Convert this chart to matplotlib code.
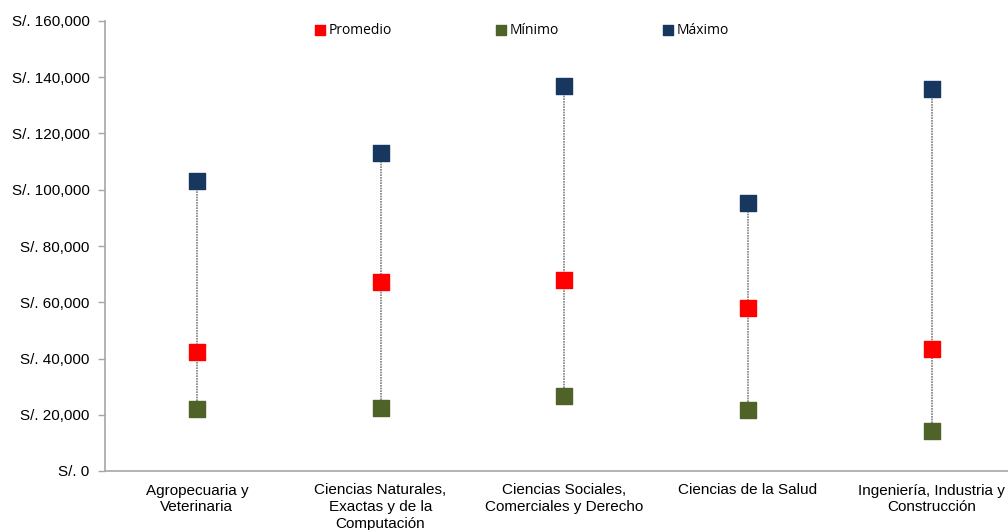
import matplotlib.pyplot as plt
from matplotlib.ticker import FuncFormatter

categorias = ["Agropecuaria y\nVeterinaria",
              "Ciencias Naturales,\nExactas y de la\nComputación",
              "Ciencias Sociales,\nComerciales y Derecho",
              "Ciencias de la Salud",
              "Ingeniería, Industria y\nConstrucción"]
promedio = [42300, 67200, 67900, 58000, 43400]
minimo = [22000, 22400, 26700, 21700, 14200]
maximo = [103100, 113100, 136900, 95300, 135800]

ROJO = "#FF0000"
VERDE = "#4F6228"
AZUL = "#17375E"

plt.rcParams["font.family"] = ["Liberation Sans", "DejaVu Sans"]

fig = plt.figure(figsize=(10.08, 5.30), dpi=100)
ax = fig.add_axes([105 / 1008, 59 / 530, 918.5 / 1008, 450 / 530])

x = list(range(len(categorias)))

# lineas punteadas min-max
for i in x:
    ax.plot([i, i], [minimo[i], maximo[i]], color="#808080", linestyle=(0, (1, 0.6)),
            linewidth=1.2, zorder=1)

ax.scatter(x, promedio, marker="s", s=120, color=ROJO, zorder=3, label="Promedio")
ax.scatter(x, minimo, marker="s", s=120, color=VERDE, zorder=3, label="Mínimo")
ax.scatter(x, maximo, marker="s", s=120, color=AZUL, zorder=3, label="Máximo")

ax.set_xlim(-0.5, len(categorias) - 0.5)
ax.set_ylim(0, 160000)
ax.set_yticks(range(0, 160001, 20000))
ax.yaxis.set_major_formatter(FuncFormatter(lambda v, p: f"S/. {int(v):,}"))
ax.set_xticks(x)
ax.set_xticklabels(categorias, fontsize=11, va="top", linespacing=1.25)
ax.tick_params(axis="x", length=0, pad=9)
ax.tick_params(axis="y", length=5, width=1, color="#A6A6A6", labelsize=11, pad=6)

for s in ["top", "right"]:
    ax.spines[s].set_visible(False)
for s in ["left", "bottom"]:
    ax.spines[s].set_color("#A6A6A6")
    ax.spines[s].set_linewidth(1.2)

leg = ax.legend(loc="center", bbox_to_anchor=(521 / 1008, 1 - 30 / 530),
                bbox_transform=fig.transFigure, ncol=3, frameon=False,
                markerscale=0.6, handletextpad=0.1, columnspacing=7.4,
                handlelength=1.0, prop={"family": "Open Sans", "size": 10})

fig.savefig("out.png", dpi=100)
